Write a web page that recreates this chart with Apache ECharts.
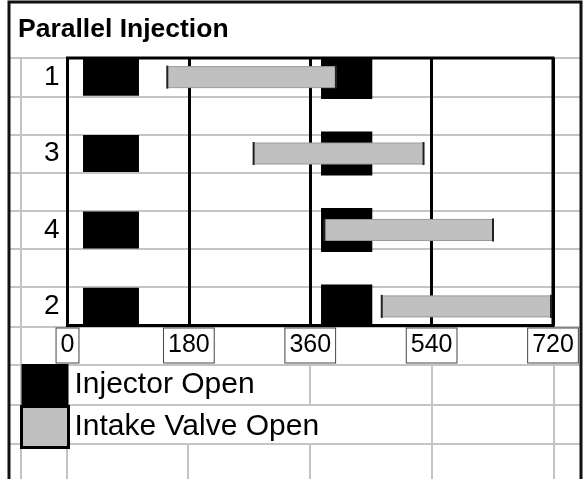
<!DOCTYPE html>
<html>
<head>
<meta charset="utf-8">
<title>Parallel Injection</title>
<script src="https://cdn.jsdelivr.net/npm/echarts/dist/echarts.min.js"></script>
<style>
  html, body { margin: 0; padding: 0; background: #fff; }
  #chart { width: 587px; height: 479px; }
</style>
</head>
<body>
<div id="chart"></div>
<script>
// cylinders, top to bottom
const cylinders = ['1', '3', '4', '2'];
// injector pulses in crank degrees (parallel: every injector fires together)
const injectorOpen = [23, 376];
const injectorClose = [106, 452];
// intake valve open / close per cylinder, crank degrees
const intakeOpen = [148, 276, 381, 466];
const intakeClose = [398, 528, 631, 717];
const crankTicks = [0, 180, 360, 540, 720];

const font = 'Liberation Sans, Arial, Helvetica, sans-serif';

// a blank row sits between two cylinders
const rows = [];
cylinders.forEach(function (c, i) {
    if (i > 0) rows.push('');
    rows.push(c);
});

const injectorData = [];
const intakeData = [];
cylinders.forEach(function (c, i) {
    for (let p = 0; p < injectorOpen.length; p++) {
        injectorData.push([i * 2, injectorOpen[p], injectorClose[p], p]);
    }
    intakeData.push([i * 2, intakeOpen[i], intakeClose[i]]);
});

// spreadsheet cell lines behind the chart
const sheetRows = [58, 97, 135, 173, 211, 249, 287, 327, 365, 405, 444];
const sheetCols = [[21, 58, 479], [67, 444, 479], [188, 444, 479], [310, 365, 405],
    [310, 444, 479], [432, 365, 479], [554, 58, 479]];
const sheet = [];
sheetRows.forEach(function (y) {
    sheet.push({type: 'line', z: -10, shape: {x1: 9, y1: y, x2: 581, y2: y},
        style: {stroke: '#c4c4c4', lineWidth: 2}});
});
sheetCols.forEach(function (c) {
    sheet.push({type: 'line', z: -10, shape: {x1: c[0], y1: c[1], x2: c[0], y2: c[2]},
        style: {stroke: '#c4c4c4', lineWidth: 2}});
});
sheet.push({type: 'polyline', z: -5, shape: {points: [[9, 479], [9, 2], [581, 2], [581, 479]]},
    style: {stroke: '#111', lineWidth: 3, fill: null}});

function clipToGrid(params, rect) {
    const cs = params.coordSys;
    return echarts.graphic.clipRectByRect(rect, {x: cs.x, y: cs.y, width: cs.width, height: cs.height});
}

const chart = echarts.init(document.getElementById('chart'), null, {renderer: 'canvas'});
chart.setOption({
    backgroundColor: '#ffffff',
    animation: false,
    textStyle: {fontFamily: font},
    title: {
        text: 'Parallel Injection',
        left: 18,
        top: 16,
        padding: 0,
        textStyle: {fontSize: 26.5, fontWeight: 'bold', color: '#000', fontFamily: font}
    },
    graphic: {elements: sheet},
    legend: {
        orient: 'vertical',
        left: 20,
        top: 364,
        padding: 0,
        itemWidth: 47,
        itemHeight: 41,
        itemGap: 0,
        icon: 'rect',
        selectedMode: false,
        textStyle: {fontSize: 30, color: '#000', fontFamily: font, padding: [0, 0, 0, 1]},
        data: [
            {name: 'Injector Open'},
            {name: 'Intake Valve Open', itemStyle: {borderColor: '#000', borderWidth: 3}}
        ]
    },
    grid: {
        left: 67.5,
        top: 58,
        width: 485.5,
        height: 267.5,
        show: true,
        borderColor: '#000',
        borderWidth: 3,
        backgroundColor: 'transparent'
    },
    xAxis: {
        type: 'value',
        min: crankTicks[0],
        max: crankTicks[crankTicks.length - 1],
        interval: crankTicks[1] - crankTicks[0],
        axisLine: {show: false},
        axisTick: {show: false},
        splitLine: {show: true, lineStyle: {color: '#000', width: 3}},
        axisLabel: {
            fontSize: 25,
            color: '#000',
            fontFamily: font,
            margin: 3,
            lineHeight: 28,
            padding: [3, 4, 3, 4],
            borderColor: '#444',
            borderWidth: 1,
            backgroundColor: '#fff'
        }
    },
    yAxis: {
        type: 'category',
        inverse: true,
        data: rows,
        axisLine: {show: false},
        axisTick: {show: false},
        splitLine: {show: false},
        axisLabel: {interval: 0, fontSize: 28, color: '#000', fontFamily: font, margin: 8}
    },
    series: [
        {
            type: 'custom',
            name: 'Injector Open',
            itemStyle: {color: '#000'},
            encode: {x: [1, 2], y: 0},
            data: injectorData,
            z: 3,
            renderItem: function (params, api) {
                const y = api.value(0);
                const a = api.coord([api.value(1), y]);
                const b = api.coord([api.value(2), y]);
                const band = api.size([0, 1])[1];
                const h = band * (api.value(3) === 0 ? 0.97 : 1.15);
                const shape = clipToGrid(params, {x: a[0], y: a[1] - h / 2, width: b[0] - a[0], height: h});
                return shape && {type: 'rect', shape: shape, style: {fill: '#000'}};
            }
        },
        {
            type: 'custom',
            name: 'Intake Valve Open',
            itemStyle: {color: '#c0c0c0'},
            encode: {x: [1, 2], y: 0},
            data: intakeData,
            z: 4,
            renderItem: function (params, api) {
                const y = api.value(0);
                const a = api.coord([api.value(1), y]);
                const b = api.coord([api.value(2), y]);
                const h = api.size([0, 1])[1] * 0.55;
                const top = a[1] - h / 2;
                return {
                    type: 'group',
                    children: [
                        {type: 'rect', shape: {x: a[0], y: top, width: b[0] - a[0], height: h},
                            style: {fill: '#c0c0c0', stroke: '#9a9a9a', lineWidth: 1}},
                        {type: 'line', shape: {x1: a[0], y1: top - 1, x2: a[0], y2: top + h + 1},
                            style: {stroke: '#222', lineWidth: 2}},
                        {type: 'line', shape: {x1: b[0], y1: top - 1, x2: b[0], y2: top + h + 1},
                            style: {stroke: '#222', lineWidth: 2}}
                    ]
                };
            }
        }
    ]
});
</script>
</body>
</html>
